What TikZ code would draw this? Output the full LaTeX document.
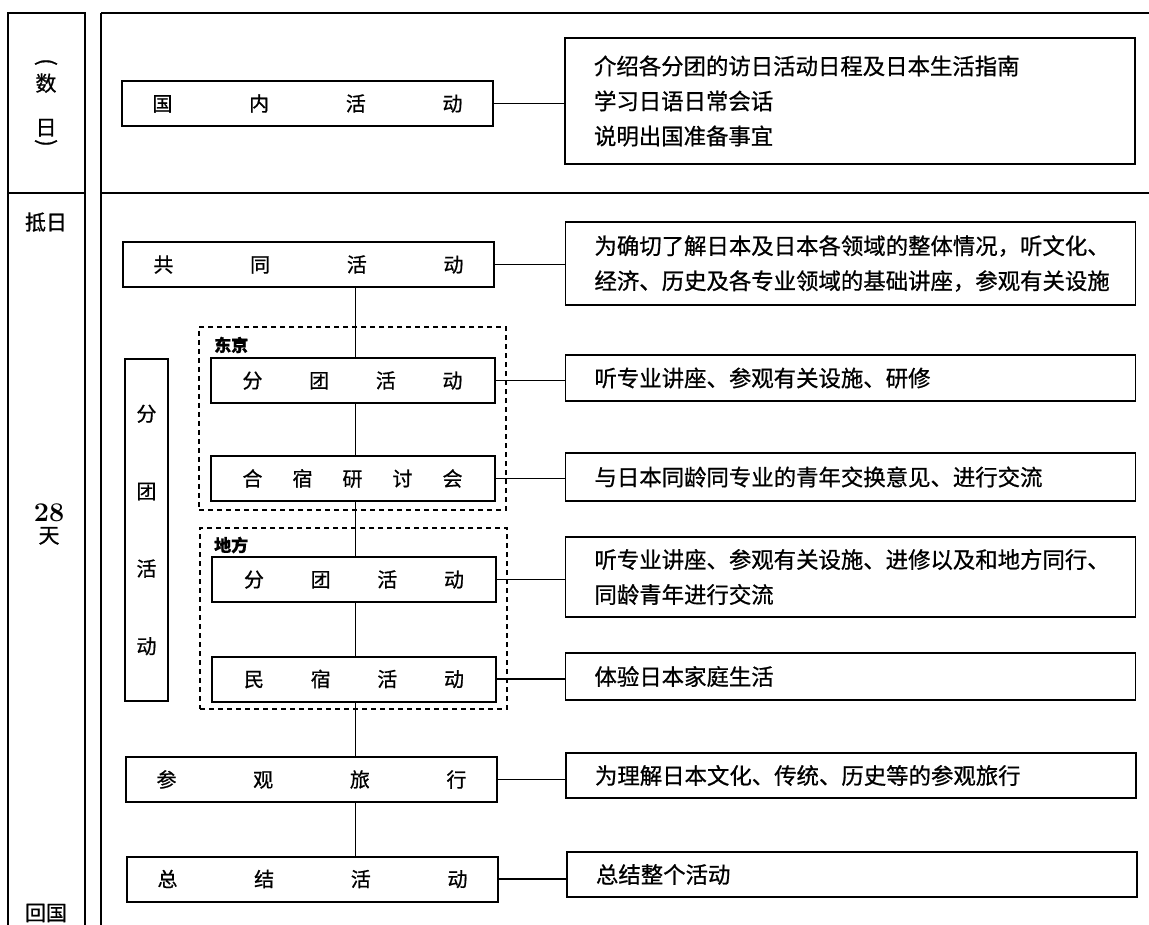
\documentclass[tikz,border=0pt]{standalone}
\usepackage{fontspec}
\newfontfamily\cjk[FakeBold=0.8]{Noto Sans CJK SC}
\newcommand\spr[2]{\makebox[#1][s]{#2}}
\begin{document}
\begin{tikzpicture}[x=1pt,y=-1pt,
  frameline/.style={line width=1.8pt},
  thinline/.style={line width=1.3pt},
  conn/.style={line width=1.3pt},
  mainbox/.style={draw,line width=2pt,inner sep=0pt,minimum height=45pt,font=\cjk\fontsize{20}{24}\selectfont},
  bigbox/.style={mainbox,minimum width=371pt},
  smallbox/.style={mainbox,minimum width=284pt},
  detail/.style={draw,line width=1.8pt,inner xsep=29pt,inner ysep=0pt,text width=512pt,align=left,minimum width=570pt,font=\cjk\fontsize{22.4}{35}\selectfont},
  dashbox/.style={draw,line width=1.8pt,dash pattern=on 5pt off 4pt,inner sep=0pt,minimum width=307pt},
  grouplabel/.style={anchor=west,inner sep=0pt,font=\cjk\bfseries\fontsize{17}{20}\selectfont},
  coltext/.style={inner sep=0pt,align=center,font=\cjk\fontsize{21}{22}\selectfont},
  vparen/.style={coltext,rotate=-90,font=\cjk\fontsize{22}{22}\selectfont}
]
\useasboundingbox (0,0) rectangle (1149,925);

% frames
\draw[frameline] (8,925) -- (8,13) -- (85,13) -- (85,925);
\draw[thinline] (8,193) -- (85,193);
\draw[frameline] (101,925) -- (101,13);
\draw[thinline] (101,13) -- (1149,13);
\draw[thinline] (101,193) -- (1149,193);

% left column texts
\node[vparen] (lparen) at (46,62) {(};
\node[coltext] (shuri) at (46,105) {数\\[22pt]日};
\node[vparen] (rparen) at (46,143) {)};
\node[coltext] (diri) at (46,222) {抵日};
\node[coltext] (days) at (49,524) {{\fontsize{27}{22}\selectfont\rmfamily\bfseries 28}\\天};
\node[coltext] (huiguo) at (46,913) {回国};

% dashed groups
\node[dashbox,minimum height=183pt] (tokyo) at (352.5,418.5) {};
\node[dashbox,minimum height=181pt] (difang) at (353.5,618.5) {};
\node[grouplabel] (tokyolab) at (214,345) {东京};
\node[grouplabel] (difanglab) at (214,545) {地方};

% vertical group box
\node[draw,line width=2pt,minimum width=43pt,minimum height=342pt,inner sep=0pt,align=center,font=\cjk\fontsize{20}{77.5}\selectfont] (fentuan) at (146.5,530) {分\\团\\活\\动};

% main boxes
\node[bigbox] (gn) at (307.5,103.5) {\spr{310pt}{国\hfill 内\hfill 活\hfill 动}};
\node[bigbox] (gt) at (308.5,264.5) {\spr{310pt}{共\hfill 同\hfill 活\hfill 动}};
\node[smallbox] (tk1) at (352.5,380.5) {\spr{220pt}{分\hfill 团\hfill 活\hfill 动}};
\node[smallbox] (tk2) at (352.5,478.5) {\spr{220pt}{合\hfill 宿\hfill 研\hfill 讨\hfill 会}};
\node[smallbox] (df1) at (354,579.5) {\spr{220pt}{分\hfill 团\hfill 活\hfill 动}};
\node[smallbox] (df2) at (354,679) {\spr{220pt}{民\hfill 宿\hfill 活\hfill 动}};
\node[bigbox] (cg) at (311.5,779.5) {\spr{310pt}{参\hfill 观\hfill 旅\hfill 行}};
\node[bigbox] (zj) at (312.5,879) {\spr{310pt}{总\hfill 结\hfill 活\hfill 动}};

% detail boxes
\node[detail,minimum height=126pt] (d1) at (850,101) {介绍各分团的访日活动日程及日本生活指南\\学习日语日常会话\\说明出国准备事宜};
\node[detail,minimum height=83pt] (d2) at (850.5,263.5) {为确切了解日本及日本各领域的整体情况，听文化、\\经济、历史及各专业领域的基础讲座，参观有关设施};
\node[detail,minimum height=46pt] (d3) at (850.5,378) {听专业讲座、参观有关设施、研修};
\node[detail,minimum height=48pt] (d4) at (850.5,477) {与日本同龄同专业的青年交换意见、进行交流};
\node[detail,minimum height=80pt] (d5) at (850.5,577) {听专业讲座、参观有关设施、进修以及和地方同行、\\同龄青年进行交流};
\node[detail,minimum height=47pt] (d6) at (850.5,676.5) {体验日本家庭生活};
\node[detail,minimum height=45pt] (d7) at (851,775.5) {为理解日本文化、传统、历史等的参观旅行};
\node[detail,minimum height=45pt] (d8) at (852,874.5) {总结整个活动};

% horizontal connectors
\draw[conn] (gn.east) -- (gn.east -| d1.west);
\draw[conn] (gt.east) -- (gt.east -| d2.west);
\draw[conn] (tk1.east) -- (tk1.east -| d3.west);
\draw[conn] (tk2.east) -- (tk2.east -| d4.west);
\draw[conn] (df1.east) -- (df1.east -| d5.west);
\draw[conn] (df2.east) -- (df2.east -| d6.west);
\draw[conn] (cg.east) -- (cg.east -| d7.west);
\draw[conn] (zj.east) -- (zj.east -| d8.west);

% vertical spine
\coordinate (spine) at (355.5,0);
\draw[conn] (gt.south -| spine) -- (tk1.north -| spine);
\draw[conn] (tk1.south -| spine) -- (tk2.north -| spine);
\draw[conn] (tk2.south -| spine) -- (df1.north -| spine);
\draw[conn] (df1.south -| spine) -- (df2.north -| spine);
\draw[conn] (df2.south -| spine) -- (cg.north -| spine);
\draw[conn] (cg.south -| spine) -- (zj.north -| spine);
\end{tikzpicture}
\end{document}
